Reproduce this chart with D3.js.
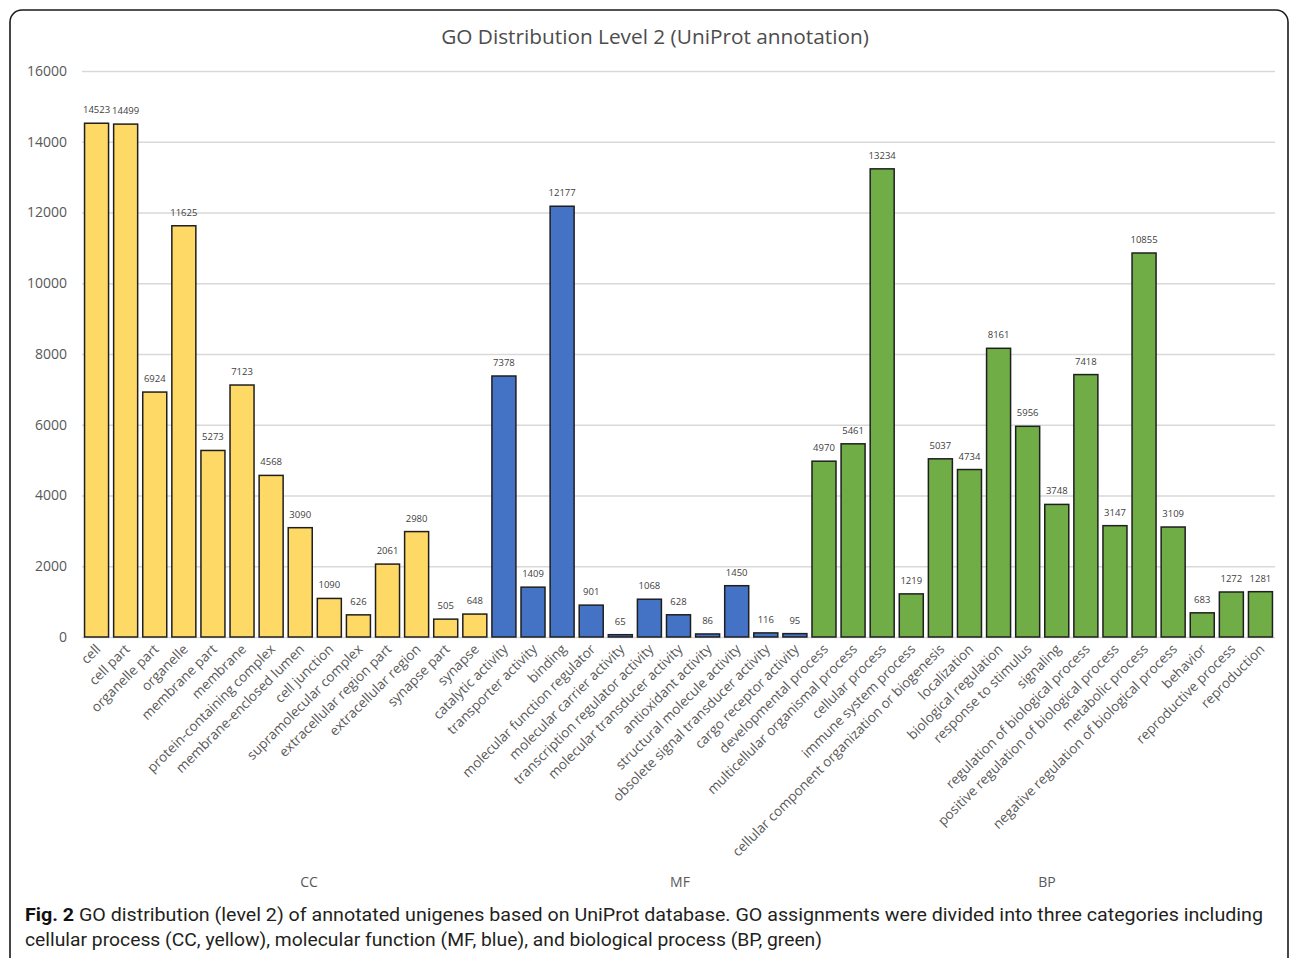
<!DOCTYPE html>
<html>
<head>
<meta charset="utf-8">
<script src="https://cdn.jsdelivr.net/npm/d3@7"></script>
<style>
  html, body { margin: 0; padding: 0; background: #fff; }
  svg { display: block; }
</style>
</head>
<body>
<svg id="chart" width="1290" height="958"></svg>
<script>
// GO level-2 term counts, grouped by ontology
const ccTerms = ["cell", "cell part", "organelle part", "organelle", "membrane part", "membrane",
  "protein-containing complex", "membrane-enclosed lumen", "cell junction", "supramolecular complex",
  "extracellular region part", "extracellular region", "synapse part", "synapse"];
const ccValues = [14523, 14499, 6924, 11625, 5273, 7123, 4568, 3090, 1090, 626, 2061, 2980, 505, 648];

const mfTerms = ["catalytic activity", "transporter activity", "binding", "molecular function regulator",
  "molecular carrier activity", "transcription regulator activity", "molecular transducer activity",
  "antioxidant activity", "structural molecule activity", "obsolete signal transducer activity",
  "cargo receptor activity"];
const mfValues = [7378, 1409, 12177, 901, 65, 1068, 628, 86, 1450, 116, 95];

const bpTerms = ["developmental process", "multicellular organismal process", "cellular process",
  "immune system process", "cellular component organization or biogenesis", "localization",
  "biological regulation", "response to stimulus", "signaling", "regulation of biological process",
  "positive regulation of biological process", "metabolic process",
  "negative regulation of biological process", "behavior", "reproductive process", "reproduction"];
const bpValues = [4970, 5461, 13234, 1219, 5037, 4734, 8161, 5956, 3748, 7418, 3147, 10855, 3109, 683, 1272, 1281];

const groupNames = ["CC", "MF", "BP"];
const groupColors = { CC: "#FFD966", MF: "#4472C4", BP: "#70AD47" };
const yTicks = [0, 2000, 4000, 6000, 8000, 10000, 12000, 14000, 16000];

const titleText = "GO Distribution Level 2 (UniProt annotation)";
const captionBold = "Fig. 2";
const captionLine1 = " GO distribution (level 2) of annotated unigenes based on UniProt database. GO assignments were divided into three categories including";
const captionLine2 = "cellular process (CC, yellow), molecular function (MF, blue), and biological process (BP, green)";

// Build the flat row list used by the scales
const rows = [];
[[ccTerms, ccValues, "CC"], [mfTerms, mfValues, "MF"], [bpTerms, bpValues, "BP"]].forEach(([t, v, g]) => {
  t.forEach((term, i) => rows.push({ term, value: v[i], group: g }));
});

const svg = d3.select("#chart");
const font = "'Open Sans', 'DejaVu Sans', sans-serif";
const grey = "#595959";

// outer frame
svg.append("rect")
  .attr("x", 10).attr("y", 10)
  .attr("width", 1278).attr("height", 980)
  .attr("rx", 12).attr("ry", 12)
  .attr("fill", "none").attr("stroke", "#1a1a1a").attr("stroke-width", 1.6);

const x = d3.scaleBand()
  .domain(rows.map(d => d.term))
  .range([82, 1275])
  .paddingInner(0.175)
  .paddingOuter(0.0875);

const y = d3.scaleLinear().domain([0, 16000]).range([637, 71]);

// gridlines and y tick labels
const yAxis = d3.axisLeft(y).tickValues(yTicks).tickSize(-(1275 - 82)).tickPadding(15).tickFormat(d3.format("d"));
const gy = svg.append("g").attr("transform", "translate(82,0)").call(yAxis);
gy.select(".domain").remove();
gy.selectAll(".tick line").attr("stroke", "#d9d9d9").attr("stroke-width", 1.3);
gy.selectAll(".tick text")
  .attr("fill", grey).attr("font-family", font).attr("font-size", 14);

// bars
svg.append("g").selectAll("rect").data(rows).join("rect")
  .attr("x", d => x(d.term))
  .attr("y", d => y(d.value))
  .attr("width", x.bandwidth())
  .attr("height", d => y(0) - y(d.value))
  .attr("fill", d => groupColors[d.group])
  .attr("stroke", "#1f1f1f")
  .attr("stroke-width", 1.5);

// value labels
svg.append("g").selectAll("text").data(rows).join("text")
  .attr("x", d => x(d.term) + x.bandwidth() / 2)
  .attr("y", d => y(d.value) - 10)
  .attr("text-anchor", "middle")
  .attr("font-family", font).attr("font-size", 9.5)
  .attr("fill", "#404040")
  .text(d => d.value);

// category labels, rotated
svg.append("g").selectAll("text").data(rows).join("text")
  .attr("transform", d => `translate(${x(d.term) + x.bandwidth() / 2 + 5},${650}) rotate(-45)`)
  .attr("text-anchor", "end")
  .attr("font-family", font).attr("font-size", 13.6)
  .attr("fill", grey)
  .text(d => d.term);

// ontology group labels along the bottom
const groupLabelX = [309, 680, 1047];
svg.append("g").selectAll("text").data(groupNames).join("text")
  .attr("x", (g, i) => groupLabelX[i])
  .attr("y", 887)
  .attr("text-anchor", "middle")
  .attr("font-family", font).attr("font-size", 14)
  .attr("fill", grey)
  .text(g => g);

// title
svg.append("text")
  .attr("x", 655).attr("y", 44)
  .attr("text-anchor", "middle")
  .attr("font-family", font).attr("font-size", 20.8)
  .attr("fill", "#4d4d4d")
  .text(titleText);

// caption
const capFont = "'Liberation Sans Narrow', 'Roboto', 'Liberation Sans', sans-serif";
const cap1 = svg.append("text")
  .attr("x", 25).attr("y", 921)
  .attr("font-family", capFont).attr("font-size", 18.5)
  .attr("fill", "#231f20")
  .attr("textLength", 1238).attr("lengthAdjust", "spacingAndGlyphs");
cap1.append("tspan").attr("font-weight", "bold").attr("fill", "#111").text(captionBold);
cap1.append("tspan").text(captionLine1);

svg.append("text")
  .attr("x", 25).attr("y", 946)
  .attr("font-family", capFont).attr("font-size", 18.5)
  .attr("fill", "#231f20")
  .attr("textLength", 797).attr("lengthAdjust", "spacingAndGlyphs")
  .text(captionLine2);
</script>
</body>
</html>
